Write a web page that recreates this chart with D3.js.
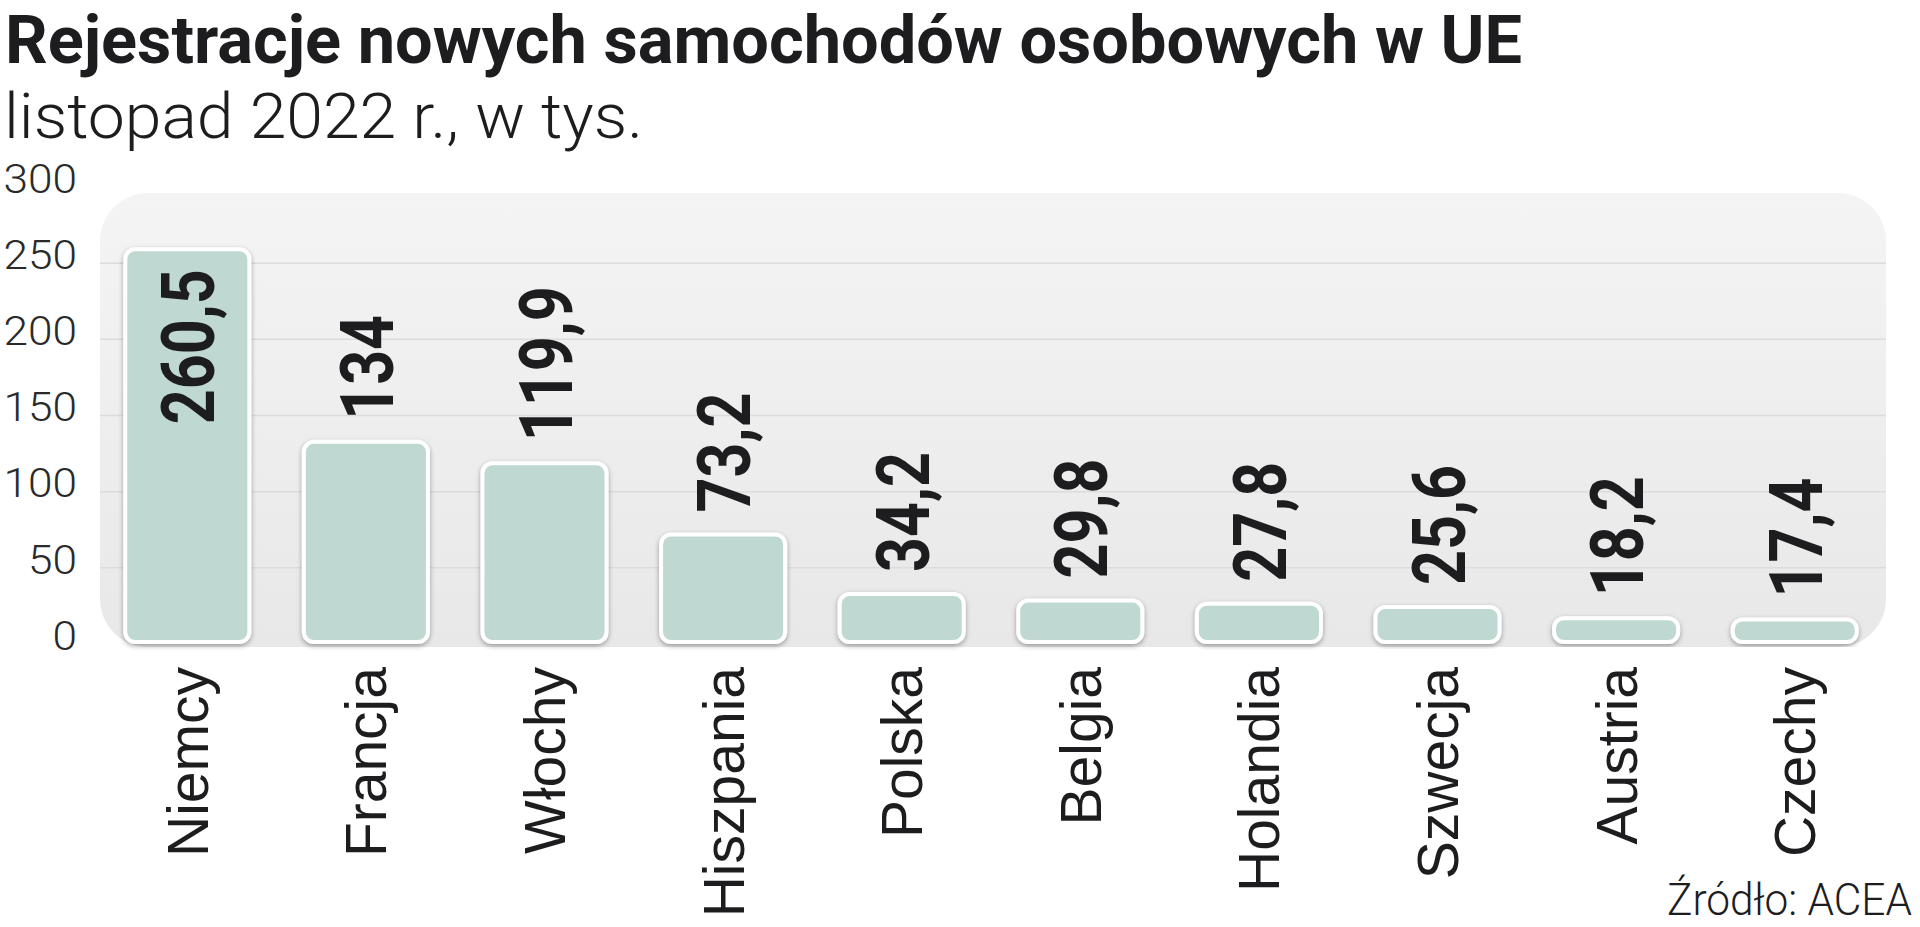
<!DOCTYPE html>
<html>
<head>
<meta charset="utf-8">
<script src="https://cdn.jsdelivr.net/npm/d3@7"></script>
<style>
  html, body { margin: 0; padding: 0; background: #ffffff; }
  svg { display: block; }
</style>
</head>
<body>
<svg id="chart" width="1920" height="927"></svg>
<script>
// ---- data ----
const titleText = "Rejestracje nowych samochodów osobowych w UE";
const subtitleText = "listopad 2022 r., w tys.";
const sourceText = "Źródło: ACEA";
const categories = ["Niemcy", "Francja", "Włochy", "Hiszpania", "Polska", "Belgia", "Holandia", "Szwecja", "Austria", "Czechy"];
const values = [260.5, 134, 119.9, 73.2, 34.2, 29.8, 27.8, 25.6, 18.2, 17.4];
const valueLabels = ["260,5", "134", "119,9", "73,2", "34,2", "29,8", "27,8", "25,6", "18,2", "17,4"];
const yTicks = [0, 50, 100, 150, 200, 250, 300];
const gridTicks = [50, 100, 150, 200, 250];

// ---- layout ----
const svg = d3.select("#chart");
const panel = { x: 100, y: 193, w: 1786, h: 454, r: 48 };

const y = d3.scaleLinear().domain([0, 300]).range([644, 187]);
const x = d3.scaleBand().domain(categories).range([98, 1884]).paddingInner(0.283).paddingOuter(0.1415);

const defs = svg.append("defs");
const grad = defs.append("linearGradient").attr("id", "panelGrad").attr("x1", 0).attr("y1", 0).attr("x2", 0).attr("y2", 1);
grad.append("stop").attr("offset", "0%").attr("stop-color", "#f4f4f4");
grad.append("stop").attr("offset", "100%").attr("stop-color", "#e8e8e8");

const shadow = defs.append("filter").attr("id", "barShadow").attr("x", "-20%").attr("y", "-20%").attr("width", "140%").attr("height", "140%");
shadow.append("feDropShadow").attr("dx", 0).attr("dy", 2).attr("stdDeviation", 2.5)
  .attr("flood-color", "#000").attr("flood-opacity", 0.35);

// title
svg.append("text")
  .attr("x", 5).attr("y", 63)
  .attr("font-family", "Roboto, 'Liberation Sans', sans-serif")
  .attr("font-weight", 700).attr("font-size", 66)
  .attr("fill", "#1d1d1f")
  .attr("textLength", 1517).attr("lengthAdjust", "spacingAndGlyphs")
  .text(titleText);

// subtitle
svg.append("text")
  .attr("x", 4).attr("y", 138)
  .attr("font-family", "Roboto, 'Liberation Sans', sans-serif")
  .attr("font-weight", 300).attr("font-size", 63)
  .attr("fill", "#1d1d1f")
  .attr("textLength", 639).attr("lengthAdjust", "spacingAndGlyphs")
  .text(subtitleText);

// panel
svg.append("rect")
  .attr("x", panel.x).attr("y", panel.y).attr("width", panel.w).attr("height", panel.h)
  .attr("rx", panel.r).attr("ry", panel.r)
  .attr("fill", "url(#panelGrad)");

// grid
svg.append("g").selectAll("line").data(gridTicks).join("line")
  .attr("x1", panel.x).attr("x2", panel.x + panel.w)
  .attr("y1", d => y(d)).attr("y2", d => y(d))
  .attr("stroke", "#dcdcdc").attr("stroke-width", 1.5);

// y axis
const yAxis = svg.append("g").attr("transform", "translate(80,0)")
  .call(d3.axisLeft(y).tickValues(yTicks).tickSize(0).tickPadding(3).tickFormat(d3.format("d")));
yAxis.select(".domain").remove();
yAxis.selectAll("text")
  .attr("font-family", "Roboto, 'Liberation Sans', sans-serif")
  .attr("font-weight", 300)
  .attr("font-size", 40)
  .attr("fill", "#2a2a2a")
  .attr("dy", "0.13em")
  .attr("textLength", function () { return this.textContent.length * 24.5; })
  .attr("lengthAdjust", "spacingAndGlyphs");

// bars
const sw = 4;
svg.append("g").selectAll("rect").data(values).join("rect")
  .attr("x", (d, i) => x(categories[i]) + sw / 2)
  .attr("width", x.bandwidth() - sw)
  .attr("y", d => y(d) + sw / 2)
  .attr("height", d => y(0) - y(d) - sw)
  .attr("rx", 10).attr("ry", 10)
  .attr("fill", "#bfd9d2")
  .attr("stroke", "#ffffff").attr("stroke-width", sw)
  .attr("filter", "url(#barShadow)");

// value labels
const labelLen = s => s.replace(/,/g, "").length * 35 + (s.split(",").length - 1) * 15;
const gap = 20;
const isInside = (d, i) => y(d) - gap - labelLen(valueLabels[i]) < panel.y + 10;
svg.append("g").selectAll("text").data(values).join("text")
  .attr("transform", (d, i) => {
    const cx = x(categories[i]) + x.bandwidth() / 2;
    const ty = isInside(d, i) ? y(d) + 22 : y(d) - gap;
    return `translate(${cx},${ty}) rotate(-90)`;
  })
  .attr("text-anchor", (d, i) => isInside(d, i) ? "end" : "start")
  .attr("dy", "0.36em")
  .attr("font-family", "Roboto, 'Liberation Sans', sans-serif")
  .attr("font-weight", 700).attr("font-size", 75)
  .attr("fill", "#1d1d1f")
  .attr("textLength", (d, i) => labelLen(valueLabels[i]))
  .attr("lengthAdjust", "spacingAndGlyphs")
  .text((d, i) => valueLabels[i]);

// category labels
svg.append("g").selectAll("text").data(categories).join("text")
  .attr("transform", d => `translate(${x(d) + x.bandwidth() / 2},667) rotate(-90)`)
  .attr("text-anchor", "end")
  .attr("dy", "0.36em")
  .attr("font-family", "'Liberation Sans', Arial, sans-serif")
  .attr("font-size", 57)
  .attr("fill", "#1d1d1f")
  .text(d => d);

// source
svg.append("text")
  .attr("x", 1912).attr("y", 915)
  .attr("text-anchor", "end")
  .attr("font-family", "Roboto, 'Liberation Sans', sans-serif")
  .attr("font-weight", 300).attr("font-size", 44)
  .attr("fill", "#1d1d1f")
  .attr("textLength", 245).attr("lengthAdjust", "spacingAndGlyphs")
  .text(sourceText);
</script>
</body>
</html>
